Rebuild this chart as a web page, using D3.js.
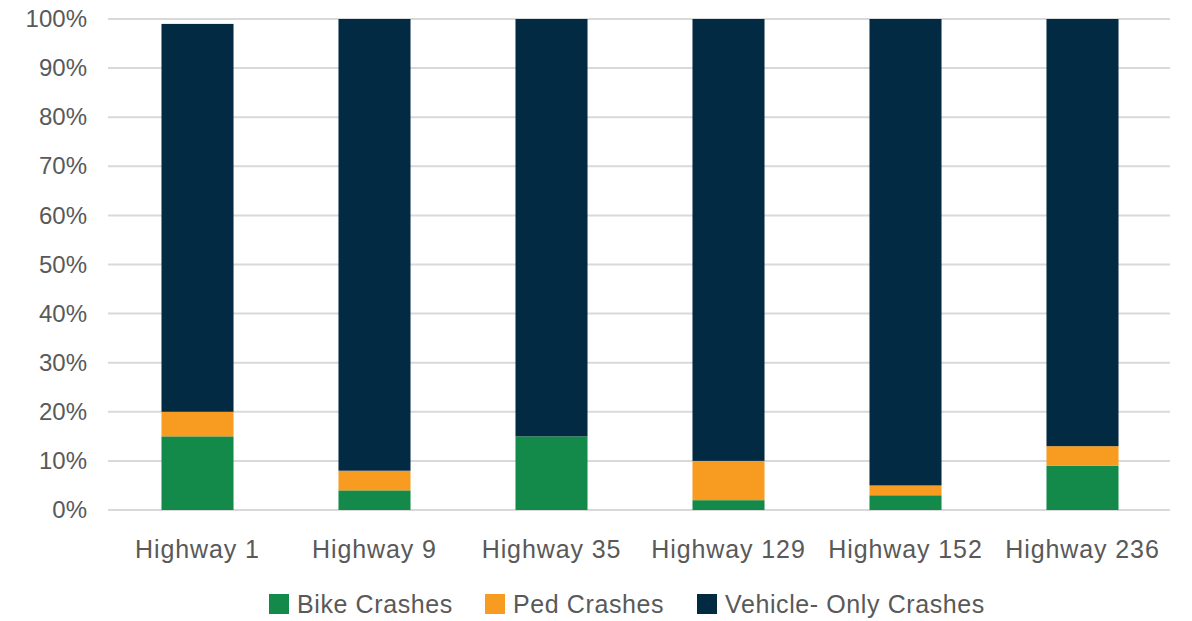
<!DOCTYPE html>
<html>
<head>
<meta charset="utf-8">
<script src="https://cdn.jsdelivr.net/npm/d3@7"></script>
<style>
  body { margin: 0; background: #fff; }
  svg { display: block; font-family: "Liberation Sans", Arial, sans-serif; }
</style>
</head>
<body>
<div id="app"></div>
<script>
const categories = ['Highway 1', 'Highway 9', 'Highway 35', 'Highway 129', 'Highway 152', 'Highway 236'];
const bike = [15, 4, 15, 2, 3, 9];
const ped = [5, 4, 0, 8, 2, 4];
const vehicle = [79, 92, 85, 90, 95, 87];
const seriesNames = ['Bike Crashes', 'Ped Crashes', 'Vehicle- Only Crashes'];
const colors = ['#13894a', '#f79c21', '#032a43'];
const yTicks = [0, 10, 20, 30, 40, 50, 60, 70, 80, 90, 100];

const width = 1192, height = 621;
const margin = { top: 19, right: 22, bottom: 111, left: 108 };

const rows = categories.map((c, i) => ({ cat: c, bike: bike[i], ped: ped[i], vehicle: vehicle[i] }));
const stack = d3.stack().keys(['bike', 'ped', 'vehicle'])(rows);

const x = d3.scaleBand()
  .domain(categories)
  .range([margin.left + 1, width - margin.right + 1])
  .paddingInner(0.593)
  .paddingOuter(0.2965);

const y = d3.scaleLinear()
  .domain([0, 100])
  .range([height - margin.bottom, margin.top]);

const svg = d3.select('#app').append('svg')
  .attr('width', width)
  .attr('height', height);

// gridlines
svg.append('g')
  .selectAll('line')
  .data(yTicks)
  .join('line')
  .attr('x1', margin.left)
  .attr('x2', width - margin.right)
  .attr('y1', d => y(d))
  .attr('y2', d => y(d))
  .attr('stroke', '#d9d9d9')
  .attr('stroke-width', 2);

// y axis labels
const yAxis = g => g
  .attr('transform', `translate(${margin.left - 21}, 0)`)
  .call(d3.axisLeft(y).tickValues(yTicks).tickFormat(d => d + '%').tickSize(0).tickPadding(0))
  .call(g => g.select('.domain').remove())
  .call(g => g.selectAll('text')
    .attr('font-size', 24)
    .attr('font-family', '"Liberation Sans", Arial, sans-serif')
    .attr('fill', '#595959'));
svg.append('g').call(yAxis);

// bars
svg.append('g')
  .selectAll('g')
  .data(stack)
  .join('g')
  .attr('fill', (d, i) => colors[i])
  .selectAll('rect')
  .data(d => d)
  .join('rect')
  .attr('x', d => x(d.data.cat))
  .attr('width', x.bandwidth())
  .attr('y', d => y(d[1]))
  .attr('height', d => y(d[0]) - y(d[1]));

// x axis labels
const xAxis = g => g
  .attr('transform', `translate(0, ${height - margin.bottom + 30})`)
  .call(d3.axisBottom(x).tickSize(0).tickPadding(0))
  .call(g => g.select('.domain').remove())
  .call(g => g.selectAll('text')
    .attr('font-size', 25)
    .attr('letter-spacing', '0.9px')
    .attr('font-family', '"Liberation Sans", Arial, sans-serif')
    .attr('fill', '#595959'));
svg.append('g').call(xAxis);

// legend
const legendX = [269, 485, 697];
const legend = svg.append('g')
  .selectAll('g')
  .data(seriesNames)
  .join('g')
  .attr('transform', (d, i) => `translate(${legendX[i]}, 594)`);
legend.append('rect')
  .attr('width', 20)
  .attr('height', 20)
  .attr('fill', (d, i) => colors[i]);
legend.append('text')
  .attr('x', 28)
  .attr('y', 10)
  .attr('dy', '0.35em')
  .attr('font-size', 25)
  .attr('letter-spacing', '0.6px')
  .attr('fill', '#595959')
  .text(d => d);
</script>
</body>
</html>
